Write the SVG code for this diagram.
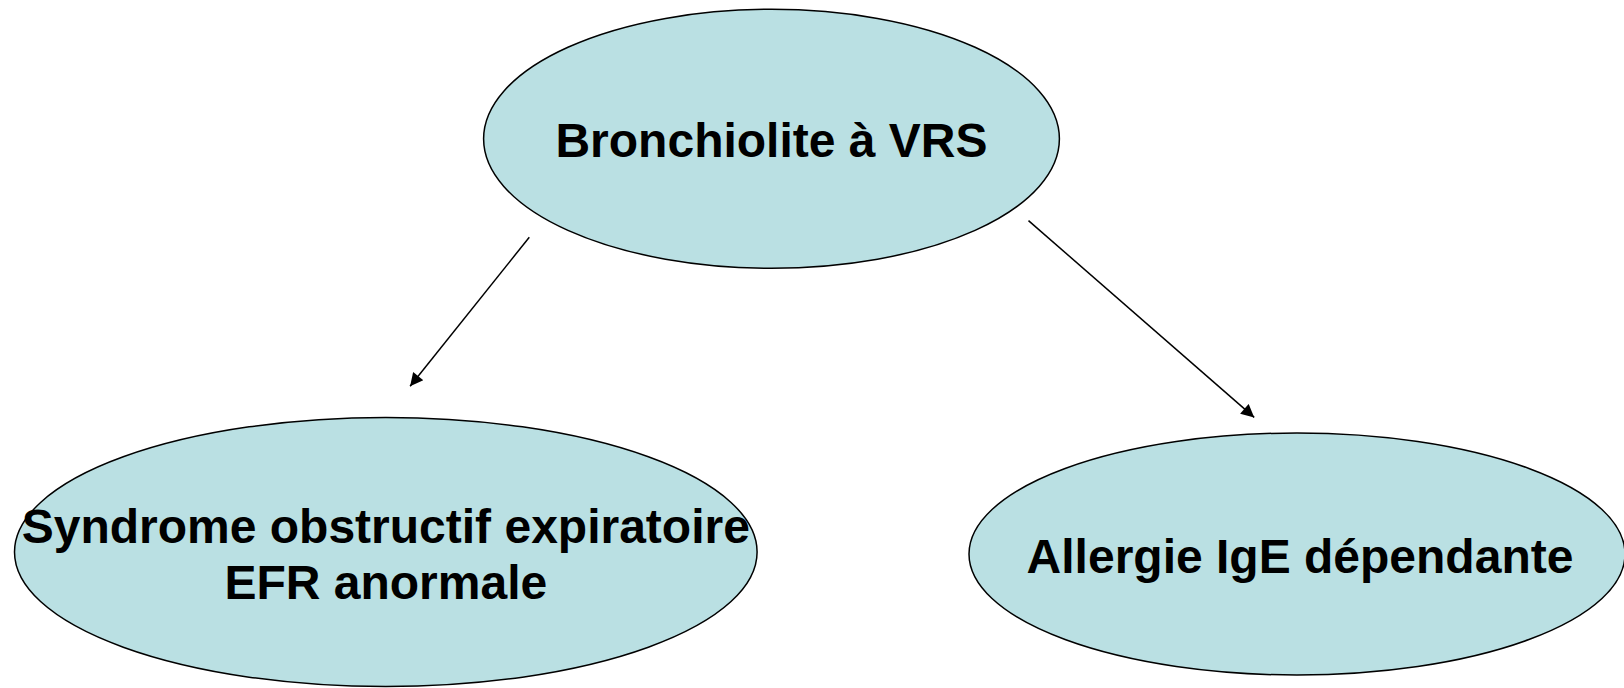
<svg xmlns="http://www.w3.org/2000/svg" width="1624" height="688" viewBox="0 0 1624 688">
<style>
.node ellipse{fill:#BAE0E3;stroke:#000;stroke-width:1.5}
.node text{font-family:"Liberation Sans",Arial,sans-serif;font-weight:bold;font-size:48px;fill:#000;text-anchor:middle}
.conn line{stroke:#000;stroke-width:1.5;marker-end:url(#arr)}
</style>
<defs>
<marker id="arr" viewBox="0 0 10 10" refX="10" refY="5" markerWidth="15" markerHeight="13" markerUnits="userSpaceOnUse" orient="auto">
<path d="M0,0 L10,5 L0,10 Z" fill="#000"/>
</marker>
</defs>
<rect width="1624" height="688" fill="#fff"/>
<g id="n1" class="node">
<ellipse cx="771.5" cy="138.8" rx="287.9" ry="129.5"/>
<text x="771.5" y="157.4">Bronchiolite à VRS</text>
</g>
<g id="n2" class="node">
<ellipse cx="385.8" cy="552" rx="371.3" ry="134.6"/>
<text x="385.8" y="542.7">Syndrome obstructif expiratoire</text>
<text x="385.8" y="598.6">EFR anormale</text>
</g>
<g id="n3" class="node">
<ellipse cx="1297" cy="554" rx="328" ry="121"/>
<text x="1300" y="572.7">Allergie IgE dépendante</text>
</g>
<g id="connectors" class="conn">
<line x1="529.3" y1="237.2" x2="410.1" y2="386.3"/>
<line x1="1028.5" y1="220.6" x2="1254.2" y2="417.4"/>
</g>
</svg>
